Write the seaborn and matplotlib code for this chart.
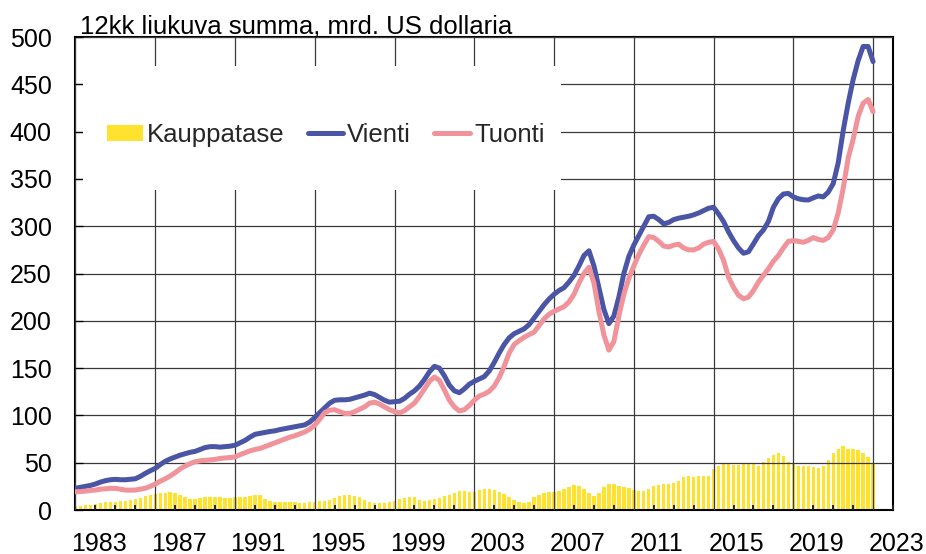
import numpy as np
import pandas as pd
import matplotlib
matplotlib.use('Agg')
import matplotlib.pyplot as plt
import matplotlib.transforms as mtransforms
from matplotlib.patches import Rectangle
from matplotlib.ticker import MultipleLocator
import seaborn as sns

# --- data: 12 month rolling sums, bn USD, quarterly readings 1983Q1..2023Q1 ---
quarters = np.arange(1983, 2023.01, 0.25)

vienti = [
    23, 24, 25, 26, 27.5, 29.5, 31, 32,
    32.4, 32, 32, 32.5, 33, 35.5, 38.7, 41.5,
    44, 48, 51.5, 54, 56, 58, 59.5, 61,
    62, 64, 66, 67, 67, 66.5, 67, 67.5,
    68.5, 71, 73.5, 77, 80, 81, 82, 83,
    83.7, 85, 86, 87, 88, 89, 90, 93,
    97.8, 103, 108, 113, 116, 116.5, 116.5, 117,
    118.5, 120, 121.5, 123.5, 122, 119, 116, 114,
    114.5, 115, 118, 122.4, 126, 131, 138, 146,
    151.9, 150, 142, 132, 126, 124, 128, 133,
    136, 138.5, 141, 147, 156, 166, 175, 182,
    186.4, 189, 191.5, 196, 203, 210, 217, 223,
    228, 232, 235, 241, 248, 258, 269, 274,
    258, 235, 212, 197, 205, 225, 250, 268,
    280, 290, 300, 310, 310.5, 307, 302.5, 304,
    307, 308.5, 309.5, 310.5, 312, 314, 316.5, 319,
    320, 313, 305, 294, 284.8, 277, 271.4, 273,
    281.3, 290, 296, 305, 320, 329, 334, 334.7,
    331, 329, 328, 327.7, 330, 332, 331, 336,
    345, 367, 401, 430, 455, 475, 490, 490,
    474,
]

tuonti = [
    19.3, 19.5, 20, 20.5, 21.1, 22, 22.5, 22.9,
    22.9, 22, 21.1, 21, 21.1, 22, 23, 25,
    27.4, 30.5, 33, 36, 39.5, 43.5, 46.5, 49,
    51, 52, 52.5, 53, 53.5, 54.5, 55, 55.5,
    56, 58.5, 60.5, 62.5, 64, 65, 67, 69,
    71, 73, 75, 77, 78.5, 80.5, 82.5, 85.5,
    89.7, 96, 103, 105.5, 106, 104, 102, 102,
    104, 106.5, 109, 113, 114, 112, 109, 106,
    104, 102.7, 105, 109, 113, 120, 128, 136,
    140.6, 137, 127, 116, 109, 104.7, 106, 110.5,
    116, 120.5, 122.5, 125.5, 131, 140, 152, 166,
    175, 179, 182.5, 185.5, 188, 195, 202, 207,
    210, 212.5, 215, 220, 228, 240, 250, 256.6,
    240, 210, 185, 169, 178, 205, 228, 245,
    258, 270, 280, 289, 288, 284, 279, 278,
    280, 281, 277, 275, 275, 277, 281, 283,
    284, 276, 264, 246, 235.5, 227, 223.3, 225,
    232, 241, 248, 255, 263, 269, 277, 284,
    284.8, 284, 283, 285, 288, 286, 285, 288,
    296, 314, 340, 372, 392, 416, 430, 434,
    421,
]

kauppatase = [
    4.2, 4.5, 5, 5.5, 6, 7, 8, 8.5,
    8.8, 9.5, 10, 10.5, 11.3, 12.5, 14.5, 16,
    17, 18, 18.5, 18.7, 17.5, 15.5, 13.5, 11.5,
    11.5, 13, 14, 14, 14, 13.5, 13, 13,
    13.4, 13.5, 14, 14.5, 15.5, 15.5, 12, 9.5,
    8.5, 8.5, 8, 8, 8, 7.7, 7.7, 8,
    8.5, 9, 9.5, 10.5, 12.5, 14.5, 15.5, 15.8,
    15, 13.5, 11, 8.5, 7.5, 7, 7, 8,
    10, 11.5, 13, 13.5, 14, 11, 10, 10.5,
    11.5, 13, 14.5, 16, 18, 20, 20, 19.5,
    19.5, 21, 22.5, 22.5, 21.5, 19.5, 17, 13.5,
    11, 8.5, 7.7, 8.5, 14, 16, 17.5, 19,
    19.5, 20.5, 22, 24, 26, 25.5, 22, 18,
    15, 18, 24, 28, 27, 25.5, 24.5, 23,
    21.5, 20.5, 20, 22.5, 25, 26, 27, 27.5,
    28.5, 31, 34.5, 35.5, 35, 36, 35.5, 36,
    43, 47, 48.5, 50, 48, 47.5, 49, 49.5,
    49, 47, 51, 55, 58, 60.5, 57, 51,
    48.5, 46, 46.5, 46.5, 45.5, 44.6, 46, 53,
    60, 65, 68, 65, 64, 63, 60, 56,
    50,
]

df = pd.DataFrame({'vuosi': quarters, 'Vienti': vienti,
                   'Tuonti': tuonti, 'Kauppatase': kauppatase})

BLUE = '#4a55a5'
PINK = '#f0939a'
YELLOW = '#ffe22e'

sns.set_theme(style='white')
plt.rcParams['font.family'] = ['Liberation Sans', 'DejaVu Sans']

fig = plt.figure(figsize=(9.26, 5.54), dpi=100)
ax = fig.add_axes([0.0815, 0.0794, 0.8829, 0.8538])

ax.bar(df['vuosi'], df['Kauppatase'], width=0.17, color=YELLOW,
       linewidth=0, zorder=1, label='Kauppatase')
sns.lineplot(data=df, x='vuosi', y='Vienti', color=BLUE, lw=3.6,
             ax=ax, zorder=4, label='Vienti')
sns.lineplot(data=df, x='vuosi', y='Tuonti', color=PINK, lw=3.6,
             ax=ax, zorder=4, label='Tuonti')

ax.set_xlim(1983, 2024)
ax.set_ylim(0, 500)
ax.set_xlabel('')
ax.set_ylabel('')
ax.set_yticks(range(0, 501, 50))
ax.set_xticks(np.arange(1983, 2024, 4))
ax.xaxis.set_minor_locator(MultipleLocator(1))

ax.set_axisbelow(False)
ax.grid(True, which='major', color='#3a3a3a', lw=0.9)
for s in ax.spines.values():
    s.set_color('black')
    s.set_linewidth(1.5)

ax.tick_params(axis='x', which='major', direction='in', length=0,
               pad=15.5, labelsize=18, colors='black')
ax.tick_params(axis='x', which='minor', direction='in', length=3.6,
               width=1.4, color='#222222', bottom=True)
ax.tick_params(axis='y', which='major', direction='in', length=5.8,
               width=0.9, pad=17, labelsize=18, left=True, colors='black')

# year labels sit just right of their gridline
shift = mtransforms.ScaledTranslation(-0.045, 0, fig.dpi_scale_trans)
for lbl in ax.get_xticklabels():
    lbl.set_horizontalalignment('left')
    lbl.set_transform(lbl.get_transform() + shift)

# white box behind the legend hides the grid there
ax.add_patch(Rectangle((0.009, 0.677), 0.585, 0.262, transform=ax.transAxes,
                       facecolor='white', edgecolor='none', zorder=2.7))

handles, labels = ax.get_legend_handles_labels()
order = [labels.index(n) for n in ['Kauppatase', 'Vienti', 'Tuonti']]
ax.legend([handles[i] for i in order], [labels[i] for i in order],
          loc='center left', bbox_to_anchor=(0.0385, 0.793), ncol=3,
          frameon=False, fontsize=18.5, handlelength=1.4, handletextpad=0.15,
          columnspacing=0.9, borderpad=0, borderaxespad=0, handleheight=0.6)

ax.annotate('12kk liukuva summa, mrd. US dollaria', xy=(0, 1),
            xycoords='axes fraction', xytext=(3.2, 2.2),
            textcoords='offset points', ha='left', va='baseline',
            fontsize=18.5, color='black')

fig.savefig('out.png', dpi=100)
